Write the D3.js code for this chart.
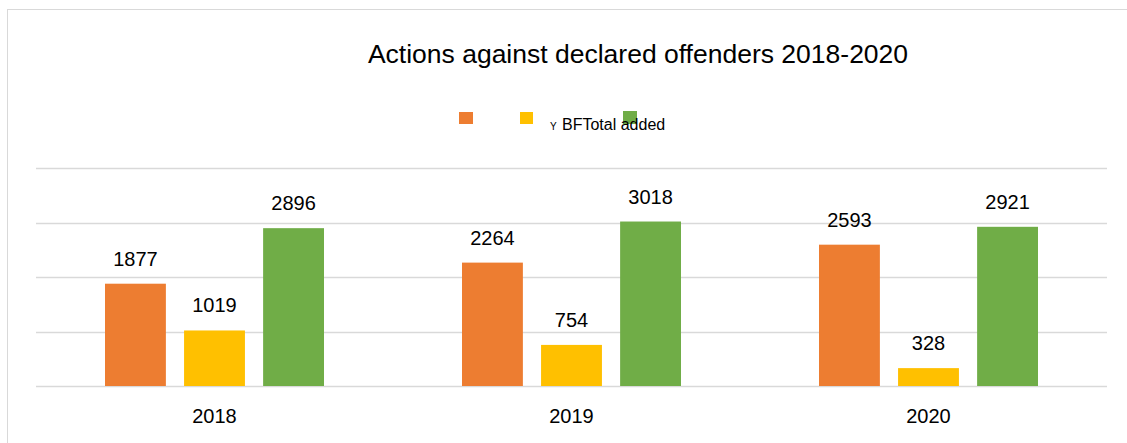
<!DOCTYPE html>
<html>
<head>
<meta charset="utf-8">
<script src="https://cdn.jsdelivr.net/npm/d3@7"></script>
<style>
  body { margin: 0; background: #fff; }
  text { font-family: "Liberation Sans", Arial, sans-serif; fill: #000; }
</style>
</head>
<body>
<div id="output"></div>
<script>
// Chart data
const years = ["2018", "2019", "2020"];
const seriesNames = ["A", "B", "Total added"];
const seriesColors = ["#ED7D31", "#FFC000", "#70AD47"];
const seriesA = [1877, 2264, 2593];
const seriesB = [1019, 754, 328];
const totalAdded = [2896, 3018, 2921];
const yTicks = [0, 1000, 2000, 3000, 4000];

const width = 1127, height = 443;
const plot = { left: 36, right: 1107, top: 168, bottom: 386 };

const svg = d3.select("#output").append("svg")
    .attr("width", width)
    .attr("height", height);

// Outer frame
svg.append("rect")
    .attr("x", 7.5).attr("y", 9.5)
    .attr("width", 1130).attr("height", 440)
    .attr("fill", "none")
    .attr("stroke", "#d9d9d9");

// Scales
const x0 = d3.scaleBand()
    .domain(years)
    .range([plot.left, plot.right]);

const x1 = d3.scaleBand()
    .domain(seriesNames)
    .range([69, 288])
    .paddingInner(0.23);

const y = d3.scaleLinear()
    .domain([0, 4000])
    .range([plot.bottom, plot.top]);

// Gridlines
svg.append("g")
    .selectAll("line")
    .data(yTicks)
    .enter().append("line")
    .attr("x1", plot.left)
    .attr("x2", plot.right)
    .attr("y1", d => Math.round(y(d)) + 0.5)
    .attr("y2", d => Math.round(y(d)) + 0.5)
    .attr("stroke", "#d9d9d9")
    .attr("stroke-width", 1.5);

// Title
svg.append("text")
    .attr("x", 638)
    .attr("y", 63)
    .attr("text-anchor", "middle")
    .style("font-size", "26.5px")
    .text("Actions against declared offenders 2018-2020");

// Build rows
const rows = [];
years.forEach((yr, i) => {
  [seriesA[i], seriesB[i], totalAdded[i]].forEach((v, j) => {
    rows.push({ year: yr, series: seriesNames[j], color: seriesColors[j], value: v });
  });
});

// Bars
svg.selectAll(".bar")
    .data(rows)
    .enter().append("rect")
    .attr("class", "bar")
    .attr("x", d => x0(d.year) + x1(d.series))
    .attr("y", d => y(d.value))
    .attr("width", x1.bandwidth())
    .attr("height", d => y(0) - y(d.value))
    .attr("fill", d => d.color);

// Value labels
svg.selectAll(".lbl")
    .data(rows)
    .enter().append("text")
    .attr("class", "lbl")
    .attr("x", d => x0(d.year) + x1(d.series) + x1.bandwidth() / 2)
    .attr("y", d => y(d.value) - 18)
    .attr("text-anchor", "middle")
    .style("font-size", "20px")
    .text(d => d.value);

// Category axis labels
svg.selectAll(".cat")
    .data(years)
    .enter().append("text")
    .attr("class", "cat")
    .attr("x", d => x0(d) + x0.bandwidth() / 2)
    .attr("y", 423)
    .attr("text-anchor", "middle")
    .style("font-size", "20px")
    .text(d => d);

// Legend (as it appears in the original)
const legend = svg.append("g");
legend.append("rect").attr("x", 459).attr("y", 112).attr("width", 14).attr("height", 12).attr("fill", seriesColors[0]);
legend.append("rect").attr("x", 520).attr("y", 112).attr("width", 13).attr("height", 12).attr("fill", seriesColors[1]);
legend.append("text")
    .attr("x", 550).attr("y", 130)
    .style("font-size", "10px")
    .text("Y");
legend.append("rect").attr("x", 623).attr("y", 111).attr("width", 14).attr("height", 13).attr("fill", seriesColors[2]);
legend.append("text")
    .attr("x", 562).attr("y", 130)
    .style("font-size", "16px")
    .text("BFTotal added");
</script>
</body>
</html>
